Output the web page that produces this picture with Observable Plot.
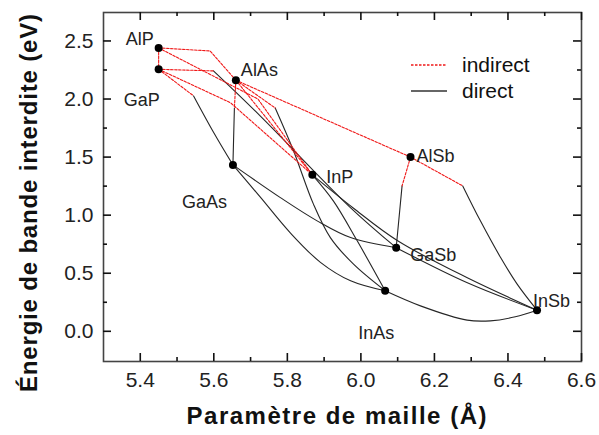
<!DOCTYPE html>
<html><head><meta charset="utf-8">
<script src="https://cdn.jsdelivr.net/npm/d3@7"></script>
<script src="https://cdn.jsdelivr.net/npm/@observablehq/plot@0.6"></script>
<style>
body{margin:0;background:#fff;}
#wrap{position:relative;width:599px;height:435px;font-family:"Liberation Sans",Arial,Helvetica,sans-serif;}
</style></head><body><div id="wrap"></div>
<script>
// ---- data ----
const compounds = ["AlP","GaP","AlAs","GaAs","InP","AlSb","GaSb","InAs","InSb"];
const latticeA  = [5.45, 5.45, 5.66, 5.652, 5.868, 6.135, 6.096, 6.066, 6.479];
const gapEV     = [2.44, 2.256, 2.162, 1.433, 1.347, 1.50, 0.72, 0.349, 0.182];

const xMajor = [5.4, 5.6, 5.8, 6.0, 6.2, 6.4, 6.6];
const xMinor = [5.5, 5.7, 5.9, 6.1, 6.3, 6.5];
const yMajor = [0, 0.5, 1.0, 1.5, 2.0, 2.5];
const yMinor = [0.25, 0.75, 1.25, 1.75, 2.25];

const legendLabels = ["indirect", "direct"];
const xTitle = "Paramètre de maille (Å)";
const yTitle = "Énergie de bande interdite (eV)";

// indirect (red dashed) segments
const AlP_GaP_ind   = [[5.45,2.44],[5.45,2.256]];
const AlP_AlAs_ind  = [[5.45,2.44],[5.59,2.414],[5.66,2.162]];
const AlP_InP_ind   = [[5.45,2.44],[5.72,2.0],[5.868,1.347]];
const GaP_InP_ind   = [[5.45,2.256],[5.645,1.969],[5.868,1.347]];
const AlAs_InP_ind  = [[5.66,2.162],[5.868,1.347]];
const GaP_GaAs_ind  = [[5.45,2.256],[5.545,2.027]];
const GaP_GaSb_ind  = [[5.45,2.256],[5.599,2.242]];
const AlAs_GaAs_ind = [[5.66,2.162],[5.656,1.923]];
const AlAs_InAs_ind = [[5.66,2.162],[5.767,1.923]];
const AlAs_AlSb_ind = [[5.66,2.162],[6.135,1.50]];
const AlSb_GaSb_ind = [[6.135,1.50],[6.112,1.252]];
const AlSb_InSb_ind = [[6.135,1.50],[6.277,1.252]];

// direct (black) segments
const GaP_GaAs_dir  = [[5.545,2.027],[5.60,1.71],[5.652,1.433]];
const AlAs_GaAs_dir = [[5.656,1.923],[5.652,1.433]];
const GaP_GaSb_dir  = [[5.599,2.242],[5.726,1.855],[5.97,1.07],[6.096,0.72]];
const AlAs_InAs_dir = [[5.767,1.923],[5.817,1.553],[5.871,1.095],[5.917,0.807],[5.98,0.578],[6.066,0.349]];
const InP_InAs_dir  = [[5.868,1.347],[5.925,1.123],[5.99,0.779],[6.066,0.349]];
const InP_InSb_dir  = [[5.868,1.347],[5.98,1.06],[6.10,0.78],[6.288,0.463],[6.479,0.182]];
const GaAs_GaSb_dir = [[5.652,1.433],[5.781,1.151],[5.881,0.951],[5.972,0.807],[6.096,0.72]];
const GaAs_InAs_dir = [[5.652,1.433],[5.726,1.157],[5.808,0.848],[5.89,0.594],[5.972,0.435],[6.066,0.349]];
const GaSb_InSb_dir = [[6.096,0.72],[6.288,0.42],[6.479,0.182]];
const InAs_InSb_dir = [[6.066,0.349],[6.162,0.219],[6.289,0.096],[6.352,0.09],[6.42,0.125],[6.479,0.182]];
const AlSb_InSb_dir = [[6.277,1.252],[6.325,0.951],[6.38,0.635],[6.425,0.406],[6.479,0.182]];
const AlSb_GaSb_dir = [[6.112,1.252],[6.096,0.72]];

const indirectCurves = {AlP_GaP_ind, AlP_AlAs_ind, AlP_InP_ind, GaP_InP_ind, AlAs_InP_ind, GaP_GaAs_ind,
  GaP_GaSb_ind, AlAs_GaAs_ind, AlAs_InAs_ind, AlAs_AlSb_ind, AlSb_GaSb_ind, AlSb_InSb_ind};
const directCurves = {GaP_GaAs_dir, AlAs_GaAs_dir, GaP_GaSb_dir, AlAs_InAs_dir, InP_InAs_dir, InP_InSb_dir,
  GaAs_GaSb_dir, GaAs_InAs_dir, GaSb_InSb_dir, InAs_InSb_dir, AlSb_InSb_dir, AlSb_GaSb_dir};

function toRows(obj){
  const rows = [];
  for (const [name, pts] of Object.entries(obj)) for (const [a, e] of pts) rows.push({name, a, e});
  return rows;
}
const indRows = toRows(indirectCurves);
const dirRows = toRows(directCurves);
const pts = compounds.map((c, i) => ({c, a: latticeA[i], e: gapEV[i]}));

// label placement (style)
const labelPlace = {
  AlP:  {dx:-5,  dy:-9,  anchor:"end"},
  GaP:  {dx:-35, dy:31,  anchor:"start"},
  AlAs: {dx:5,   dy:-10, anchor:"start"},
  GaAs: {dx:-51, dy:37,  anchor:"start"},
  InP:  {dx:14,  dy:2,   anchor:"start"},
  AlSb: {dx:6,   dy:-1,  anchor:"start"},
  GaSb: {dx:14,  dy:8,   anchor:"start"},
  InSb: {dx:-4,  dy:-9,  anchor:"start"},
  InAs: {dx:-27, dy:42,  anchor:"start"}
};

const FONT = "'Liberation Sans', Arial, Helvetica, sans-serif";
const RED = "#f01818", BLACK = "#262626";
const W = 599, H = 435, ML = 103, MR = 18, MT = 12, MB = 74;
const FW = W - ML - MR, FH = H - MT - MB;
const MAJ = 8, MIN = 4;
const tk = {stroke:"#111", strokeWidth:1.6};

const chart = Plot.plot({
  width:W, height:H,
  marginLeft:ML, marginRight:MR, marginTop:MT, marginBottom:MB,
  style:{fontFamily:FONT, background:"#fff", color:"#222", overflow:"visible"},
  x:{domain:[5.3, 6.6]},
  y:{domain:[-0.26, 2.745]},
  marks:[
    Plot.line(dirRows, {x:"a", y:"e", z:"name", stroke:BLACK, strokeWidth:1.1, curve:"catmull-rom"}),
    Plot.line(indRows, {x:"a", y:"e", z:"name", stroke:RED, strokeWidth:1.1, strokeDasharray:"2.5,1.5"}),
    Plot.dot(pts, {x:"a", y:"e", r:4, fill:"#000", stroke:"none"}),
    ...pts.map(p => Plot.text([p], {x:"a", y:"e", text:"c", dx:labelPlace[p.c].dx, dy:labelPlace[p.c].dy,
        textAnchor:labelPlace[p.c].anchor, fontSize:18, fill:"#222"})),
    Plot.frame({stroke:"#444", strokeWidth:1.6}),
    // inward ticks on all four sides
    Plot.tickX(xMajor, {x:d=>d, insetTop:FH-MAJ, ...tk}),
    Plot.tickX(xMinor, {x:d=>d, insetTop:FH-MIN, ...tk}),
    Plot.tickX(xMajor, {x:d=>d, insetBottom:FH-MAJ, ...tk}),
    Plot.tickX(xMinor, {x:d=>d, insetBottom:FH-MIN, ...tk}),
    Plot.tickY(yMajor, {y:d=>d, insetRight:FW-MAJ, ...tk}),
    Plot.tickY(yMinor, {y:d=>d, insetRight:FW-MIN, ...tk}),
    Plot.tickY(yMajor, {y:d=>d, insetLeft:FW-MAJ, ...tk}),
    Plot.tickY(yMinor, {y:d=>d, insetLeft:FW-MIN, ...tk}),
    // tick labels
    Plot.axisX({anchor:"bottom", ticks:xMajor, tickSize:0, tickPadding:11, tickFormat:".1f", fontSize:21, label:null, fill:"#222"}),
    Plot.axisY({anchor:"left", ticks:yMajor, tickSize:0, tickPadding:10, tickFormat:".1f", fontSize:21, label:null, fill:"#222"}),
    // axis titles
    Plot.text([xTitle], {frameAnchor:"bottom", text:d=>d, dx:-6, dy:62, fontSize:24, fontWeight:"bold", fill:"#111"}),
    Plot.text([yTitle], {frameAnchor:"left", textAnchor:"middle", text:d=>d, rotate:-90, dx:-74, dy:16, fontSize:24, fontWeight:"bold", fill:"#111"})
  ]
});

const wrap = document.getElementById("wrap");
wrap.appendChild(chart);

// stretch titles to the reference width
const svg = d3.select(chart);
svg.selectAll("text").filter(function(){ return this.textContent === xTitle; })
  .attr("textLength", 300).attr("lengthAdjust", "spacing");
svg.selectAll("text").filter(function(){ return this.textContent === yTitle; })
  .attr("textLength", 378).attr("lengthAdjust", "spacing");

// legend overlay
const lg = d3.select(wrap).append("svg")
  .attr("width", W).attr("height", H)
  .style("position", "absolute").style("left", "0px").style("top", "0px")
  .style("font-family", FONT);
legendLabels.forEach((lab, i) => {
  const y = 65 + i * 26;
  lg.append("line").attr("x1", 411).attr("x2", 447).attr("y1", y).attr("y2", y)
    .attr("stroke", lab === "indirect" ? RED : "#333").attr("stroke-width", lab === "indirect" ? 1.3 : 1.6)
    .attr("stroke-dasharray", lab === "indirect" ? "2.5,1.5" : null);
  lg.append("text").attr("x", 462).attr("y", y).attr("dy", "0.35em")
    .attr("font-size", 21).attr("fill", "#111").text(lab);
});
</script></body></html>
